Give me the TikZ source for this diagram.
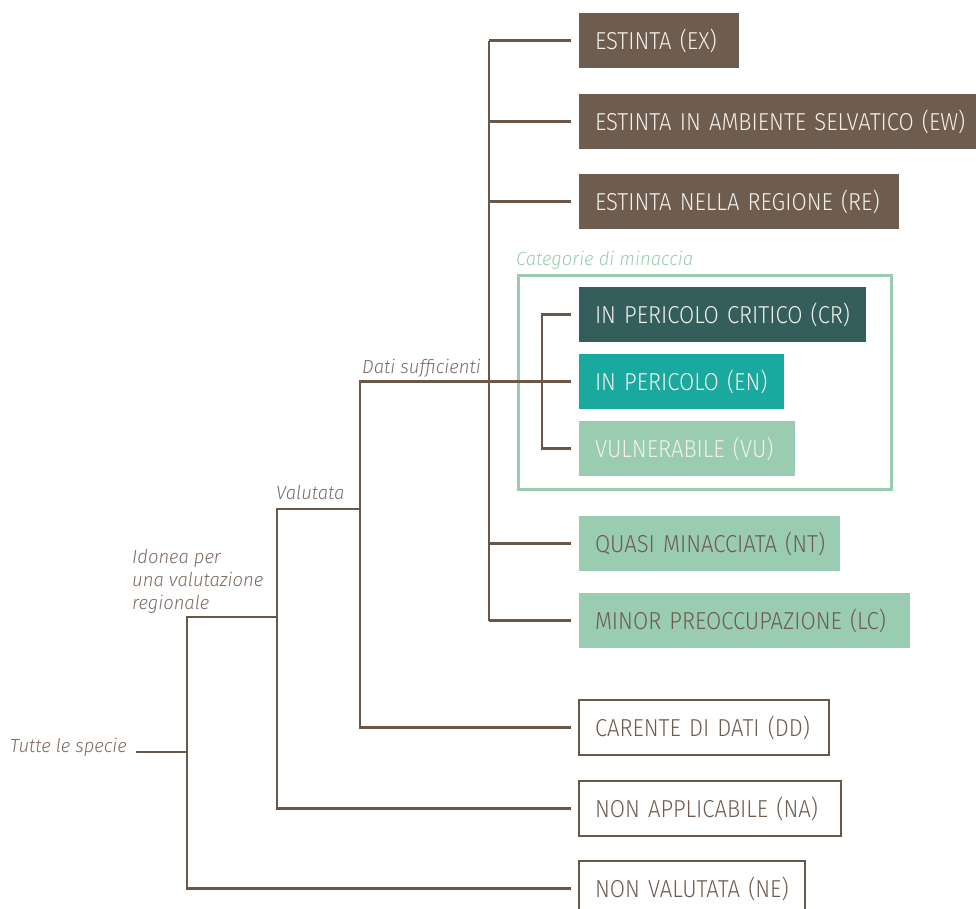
\documentclass[tikz,border=0pt]{standalone}
\usepackage{fontspec}
\setmainfont{Fira Sans Light}[FakeStretch=0.9, WordSpace=0.85]
\newfontfamily\labfont{Fira Sans Light}[FakeStretch=0.97]
\definecolor{brn}{HTML}{6E5C4F}
\definecolor{ln}{HTML}{6B5748}
\definecolor{crc}{HTML}{345E5C}
\definecolor{enc}{HTML}{1AA99F}
\definecolor{vuc}{HTML}{99CCB1}
\definecolor{wt}{HTML}{F3F0EC}
\definecolor{lab}{HTML}{7A6A61}
\tikzset{
  box/.style={anchor=north west, minimum height=55pt, inner xsep=16pt, inner ysep=0pt,
    outer sep=0pt, align=left, font=\fontsize{24.5}{28}\selectfont},
  solid box/.style={box, fill=brn, text=wt},
  line box/.style={box, draw=ln, line width=2.5pt, fill=white, text=brn},
  link/.style={draw=ln, line width=2.5pt},
  lbl/.style={inner sep=0pt, text=lab, font=\labfont\fontsize{19}{23}\selectfont\itshape},
}
\begin{document}
\begin{tikzpicture}[x=1pt,y=-1pt]
\useasboundingbox (0,0) rectangle (976,908);
% boxes
\node[solid box, text width=128pt] (ex) at (579,13) {\mbox{ESTINTA (EX)}};
\node[solid box, text width=365pt] (ew) at (579,94) {\mbox{ESTINTA IN AMBIENTE SELVATICO (EW)}};
\node[solid box, text width=288pt] (re) at (579,174) {\mbox{ESTINTA NELLA REGIONE (RE)}};
\node[box, fill=crc, text=wt, text width=255pt] (cr) at (579,287) {\mbox{IN PERICOLO CRITICO (CR)}};
\node[box, fill=enc, text=wt, text width=173pt] (en) at (579,354) {\mbox{IN PERICOLO (EN)}};
\node[box, fill=vuc, text=wt, text width=184pt] (vu) at (579,421) {\mbox{VULNERABILE (VU)}};
\node[box, fill=vuc, text=brn, text width=229pt] (nt) at (579,516) {\mbox{QUASI MINACCIATA (NT)}};
\node[box, fill=vuc, text=brn, text width=299pt] (lc) at (579,593) {\mbox{MINOR PREOCCUPAZIONE (LC)}};
\node[line box, text width=218pt] (dd) at (579,700) {\mbox{CARENTE DI DATI (DD)}};
\node[line box, text width=230pt] (na) at (579,781) {\mbox{NON APPLICABILE (NA)}};
\node[line box, text width=194pt] (ne) at (579,861) {\mbox{NON VALUTATA (NE)}};
% threat frame
\node[draw=vuc, line width=2.5pt, minimum width=373pt, minimum height=214pt, anchor=north west, inner sep=0pt] (frame) at (517,274) {};
\node[lbl, text=vuc, anchor=base west] (cat) at (516,265) {Categorie di minaccia};
% labels
\node[lbl, anchor=base east] (dati) at (481,373) {Dati sufficienti};
\node[lbl, anchor=base west] (val) at (276,499) {Valutata};
\node[lbl, anchor=north west, align=left] (ido) at (132,549) {Idonea per\\una valutazione\\regionale};
\node[lbl, anchor=base west] (tutte) at (10,752) {Tutte le specie};
% junction coordinates
\coordinate (a) at (187,617);
\coordinate (b) at (277,509);
\coordinate (c) at (360,0);
\coordinate (t) at (489,0);
\coordinate (k) at (542,0);
% connectors
\draw[link, shorten <=9pt] (tutte.base east) -- (tutte.base east -| a);
\draw[link] (a -| b) -- (a) -- (ne.west -| a) -- ([xshift=-8pt]ne.west);
\draw[link] (b -| c) -- (b) -- (na.west -| b) -- ([xshift=-8pt]na.west);
\draw[link] ([xshift=-8pt]en.west) -- (en.west -| c) -- (dd.west -| c) -- ([xshift=-8pt]dd.west);
\draw[link] (ex.west -| t) -- (lc.west -| t);
\foreach \n in {ex,ew,re,nt,lc} \draw[link] (\n.west -| t) -- ([xshift=-8pt]\n.west);
\draw[link] ([xshift=-8pt]cr.west) -- (cr.west -| k) -- (vu.west -| k) -- ([xshift=-8pt]vu.west);
\end{tikzpicture}
\end{document}
